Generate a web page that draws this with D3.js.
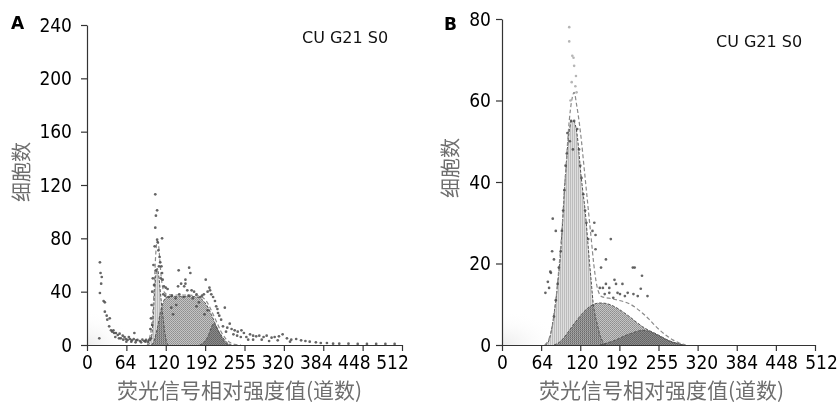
<!DOCTYPE html>
<html>
<head>
<meta charset="utf-8">
<script src="https://cdn.jsdelivr.net/npm/d3@7/dist/d3.min.js"></script>
<style>
body { margin: 0; background: #fff; }
.tick text { font-family: "DejaVu Sans Condensed", "DejaVu Sans", sans-serif; font-stretch: condensed; }
</style>
</head>
<body>
<script>
// tick labels (shared by both panels)
var xTickLabels = ["0", "64", "120", "192", "255", "320", "384", "448", "512"];
var yTicksA = [0, 40, 80, 120, 160, 200, 240];
var yTicksB = [0, 20, 40, 60, 80];

// panel A: [channel, cells]
var g1A = [[99,0],[102,2],[104,5],[106,10],[108,24],[110,42],[112,53],[114,57.5],[116,54],[118,46],[120,36],[122,27],[124,19],[126,11],[128,5],[130,1.5],[132,0]];
var sA = [[105,0],[108,2],[112,8],[115,14],[119,24],[123,31],[128,35.5],[135,36.5],[150,36.5],[165,36.5],[178,36],[186,34.5],[192,31.5],[197,28],[202,23],[207,17.5],[212,12],[218,7.5],[224,3.5],[230,1],[235,0]];
var g2A = [[183,0],[188,1.2],[193,3.5],[198,8],[202,13],[206,16.2],[210,14],[214,10],[218,6.5],[222,3.2],[226,1.2],[231,0]];
var fitA = [[98,0],[102,6],[105,14],[108,32],[110,52],[112,70],[114,78],[116,76],[118,66],[120,54],[122,46],[125,40],[130,38],[140,37.5],[160,37.5],[178,37],[186,36],[194,33],[200,28],[206,22],[212,16],[218,10],[225,5],[232,2],[240,0.5],[250,0]];
var dotsA = [
  [21,62],[22,54],[24,51],[23,46],[21,39],[27,33],[29,32],[29,25],[32,22],[33,19],[37,20],[36,14],[39,11],[41,10],[43,11],[44,9],[47,9],[50,7.5],[53,8.5],
  [55,5],[58,7],[61,6],[63,4.5],[66,3.8],[68,6],[70,4.5],[73,3.5],[77,9],[76,4.5],[80,3.5],[82,3.8],[86,3],[90,4],[93,3],[96,3.8],[99,2.5],[101,3.8],[20,5],[104,5],
  [46,6],[52,5],[59,4],[64,2.5],[72,2.5],[79,2],[88,2],[95,2.5],
  [111,113],[114,101],[112,97],[111,88],[114,79],[115,77],[122,80],[110,74],[116,71],[118,66],[119,62],[121,59],[112,56],[122,54],[123,49],[125,44],[128,43],[131,42],
  [108,60],[107,50],[106,40],[105,30],[104,20],[103,12],[106,15],[109,45],[117,59],[120,50],[124,38],[127,37],
  [149,56],[166,58],[168,54],[160,49],[160,46],[153,46],[148,44],[158,44],[170,41],[193,49],[199,43],[205,36],[210,29],[212,27],[218,19],[224,28],[221,14],[232,16],
  [226,10],[215,22],[208,33],[202,38],[196,40],[190,38],[184,36],[178,38],[172,35],[165,37],[157,36],[150,38],[144,35],[138,37],[133,36],[137,28],[140,23],[145,30],
  [178,29],[182,32],[191,23],[196,26],[187,37],[174,40],[163,41],[200,41],[213,24],[228,13],
  [235,12],[240,11],[245,10],[251,11],[255,9],[259,6],[265,8],[270,7],[275,6.5],[280,7],[287,6],[292,7],[300,5.5],[305,6],[312,6.5],[318,8],[325,5],[332,4],
  [340,4.5],[348,3.5],[355,3],[362,2.5],[372,2],[380,1.5],[390,1.5],[400,1],[410,1],[425,1],[440,0.8],[455,0.8],[470,0.8],[485,0.8],[500,0.8],
  [262,4],[284,4],[296,3],[310,3.5],[330,2.5],[250,6],[270,4],[244,7],[238,8]
];

// panel B
var g1B = [[70,0],[74,0.3],[80,3],[85,7.5],[91,15],[96,23],[99,30],[102,38],[105,44],[108,50],[111,53.5],[114,55],[117,55],[120,54],[123,51.5],[126,47],[129,42],[132,38],[136,33],[140,26],[143,20.5],[146,15.5],[149,10.5],[152,7.5],[156,5],[160,2.5],[165,0.8],[170,0]];
var sB = [[85,0],[95,0.8],[105,2.5],[113,4.2],[121,5.8],[130,7.5],[140,9],[150,10],[160,10.3],[170,10.2],[180,9.7],[190,8.9],[200,7.9],[210,6.8],[220,5.6],[230,4.5],[240,3.6],[250,2.9],[260,2.1],[270,1.3],[280,0.7],[290,0.3],[300,0]];
var g2B = [[160,0],[170,0.4],[180,0.9],[190,1.5],[200,2.2],[210,2.8],[220,3.3],[230,3.6],[240,3.4],[250,2.7],[260,2],[270,1.2],[280,0.6],[290,0.2],[300,0]];
var fitB = [[70,0],[78,2],[85,7],[92,17],[98,28],[104,42],[110,55],[114,60],[118,62],[122,59],[126,55],[130,50],[134,44],[138,38],[142,32],[146,26],[150,20],[154,15.5],[158,13],[164,11.8],[175,11.5],[190,11],[200,10.6],[210,10],[220,9],[230,7.8],[240,6.4],[250,4.8],[260,3.4],[270,2.2],[280,1.2],[290,0.5],[300,0]];
var dotsB = [
  [107,52],[113,55],[118,55],[123,53],[126,48],[128,44],[130,41],[133,37],[136,33],[138,30],[141,26],[104,44],[102,38],[100,33],[98,28],[96,23],[93,19],[91,15],[88,11],[85,7],
  [111,50],[116,48],[106,47],
  [83,31],[88,28],[82,23],[80,17.7],[85,21],[75,15.5],[79,18],[71,12.8],[77,14],
  [151,30],[148,28],[153,27],[178,26],[153,23.5],[170,21],[162,19],[165,14],[214,19],[217,19],[229,17],[184,16],[170,15],
  [175.5,14],[186.5,15],[197,15],[205.6,12.8],[189,12.8],[227,13.8],[238,12],[201,12],[182,11.6],[175.5,12.8],[160,14],[168,12.5],[193,12.5],[215,12.5],[222,12]
];
var faintDotsB = [[110,78],[110,74.5],[115,71],[117,70.5],[118,68.5],[121,66],[114,64.5],[122,62],[112,60],[120,63.5]];

var W = 839, H = 405;
var svg = d3.select("body").append("svg").attr("width", W).attr("height", H);

var defs = svg.append("defs");

var pv = defs.append("pattern").attr("id", "vhatch").attr("patternUnits", "userSpaceOnUse")
    .attr("width", 2).attr("height", 2);
pv.append("rect").attr("width", 2).attr("height", 2).attr("fill", "#dedede");
pv.append("rect").attr("width", 1).attr("height", 2).attr("fill", "#bdbdbd");

var pd = defs.append("pattern").attr("id", "dots").attr("patternUnits", "userSpaceOnUse")
    .attr("width", 2).attr("height", 2);
pd.append("rect").attr("width", 2).attr("height", 2).attr("fill", "#c4c4c4");
pd.append("rect").attr("width", 1).attr("height", 1).attr("fill", "#8e8e8e");
pd.append("rect").attr("x", 1).attr("y", 1).attr("width", 1).attr("height", 1).attr("fill", "#9a9a9a");

var rg = defs.append("radialGradient").attr("id", "smudge").attr("cx", 0).attr("cy", 1).attr("r", 1);
rg.append("stop").attr("offset", "0%").attr("stop-color", "#ececec");
rg.append("stop").attr("offset", "100%").attr("stop-color", "#fff").attr("stop-opacity", 0);

function drawPanel(p) {
    var plotW = p.x1 - p.x0,
        plotH = p.y0 - p.yTop;

    var xScale = d3.scaleLinear().domain([0, 512]).range([0, plotW]),
        yScale = d3.scaleLinear().domain([0, p.yMax]).range([plotH, 0]),
        labelScale = d3.scalePoint().domain(xTickLabels).range([0, p.labelW]);

    var g = svg.append("g")
        .attr("transform", "translate(" + p.x0 + "," + p.yTop + ")");

    // faint scan smudge in the corner
    g.append("rect")
        .attr("x", 0).attr("y", plotH - p.smudgeH)
        .attr("width", p.smudgeW).attr("height", p.smudgeH)
        .attr("fill", "url(#smudge)");

    var area = d3.area()
        .curve(d3.curveMonotoneX)
        .x(function(d) { return xScale(d[0]); })
        .y0(plotH)
        .y1(function(d) { return yScale(d[1]); });
    var line = d3.line()
        .curve(d3.curveMonotoneX)
        .x(function(d) { return xScale(d[0]); })
        .y(function(d) { return yScale(d[1]); });

    // model components, overlaps get darker
    g.append("path").datum(p.s).attr("d", area).attr("fill", "url(#dots)")
        .style("mix-blend-mode", "multiply");
    g.append("path").datum(p.g1).attr("d", area).attr("fill", "url(#vhatch)")
        .style("mix-blend-mode", "multiply");
    g.append("path").datum(p.g2).attr("d", area).attr("fill", "#b4b4b4")
        .style("mix-blend-mode", "multiply");

    [p.s, p.g1, p.g2].forEach(function(c) {
        g.append("path").datum(c).attr("d", line)
            .attr("fill", "none").attr("stroke", "#555")
            .attr("stroke-width", 1).attr("stroke-dasharray", "3,1.5");
    });

    g.append("path").datum(p.fit).attr("d", line)
        .attr("fill", "none").attr("stroke", "#8a8a8a")
        .attr("stroke-width", 1.2).attr("stroke-dasharray", "4,2.5");

    if (p.faint) {
        g.selectAll(".faint").data(p.faint).enter().append("circle")
            .attr("class", "faint")
            .attr("cx", function(d) { return xScale(d[0]); })
            .attr("cy", function(d) { return yScale(d[1]); })
            .attr("r", 1.3).attr("fill", "#b5b5b5");
    }
    g.selectAll(".dot").data(p.dots).enter().append("circle")
        .attr("class", "dot")
        .attr("cx", function(d) { return xScale(d[0]); })
        .attr("cy", function(d) { return yScale(d[1]); })
        .attr("r", 1.35).attr("fill", "#4a4a4a").attr("opacity", 0.85);

    // axes
    g.append("g")
        .attr("transform", "translate(0," + plotH + ")")
        .call(d3.axisBottom(xScale).tickValues(d3.range(0, 513, 64)).tickFormat("").tickSize(6).tickSizeOuter(0));
    var xLab = g.append("g")
        .attr("transform", "translate(0," + plotH + ")")
        .call(d3.axisBottom(labelScale).tickSize(0).tickPadding(11));
    xLab.select(".domain").remove();

    g.append("g")
        .call(d3.axisLeft(yScale).tickValues(p.yTicks).tickSize(6).tickSizeOuter(0).tickPadding(p.yPad));

    g.selectAll(".domain, .tick line").attr("stroke", "#333").attr("stroke-width", 1.2);
    g.selectAll(".tick text").attr("font-size", 19).attr("fill", "#000");

    // titles
    g.append("text")
        .attr("x", p.labelW / 2).attr("y", plotH + 53)
        .attr("text-anchor", "middle")
        .attr("font-family", "'Noto Sans CJK SC', sans-serif")
        .attr("font-size", 21).attr("fill", "#6e6e6e")
        .text("荧光信号相对强度值(道数)");

    g.append("text")
        .attr("transform", "translate(" + p.yTitleX + "," + p.yTitleY + ") rotate(-90)")
        .attr("text-anchor", "middle")
        .attr("font-family", "'Noto Sans CJK SC', sans-serif")
        .attr("font-size", 20).attr("fill", "#6e6e6e")
        .text("细胞数");

    svg.append("text")
        .attr("x", p.letterX).attr("y", p.letterY)
        .attr("font-family", "'DejaVu Sans', sans-serif")
        .attr("font-weight", "bold").attr("font-size", 17)
        .text(p.letter);

    svg.append("text")
        .attr("x", p.tagX).attr("y", p.tagY)
        .attr("font-size", 16).attr("fill", "#111")
        .attr("font-family", "'DejaVu Sans', sans-serif")
        .text("CU G21 S0");
}

drawPanel({
    x0: 87, x1: 402, yTop: 25, y0: 345, yMax: 240, yTicks: yTicksA, labelW: 305, yPad: 9,
    g1: g1A, s: sA, g2: g2A, fit: fitA, dots: dotsA,
    smudgeW: 45, smudgeH: 35,
    yTitleX: -58, yTitleY: 147,
    letter: "A", letterX: 11, letterY: 29, tagX: 302, tagY: 43
});

drawPanel({
    x0: 502, x1: 815, yTop: 19, y0: 345, yMax: 80, yTicks: yTicksB, labelW: 319, yPad: 5,
    g1: g1B, s: sB, g2: g2B, fit: fitB, dots: dotsB, faint: faintDotsB,
    smudgeW: 60, smudgeH: 35,
    yTitleX: -44, yTitleY: 149,
    letter: "B", letterX: 444, letterY: 30, tagX: 716, tagY: 47
});
</script>
</body>
</html>
